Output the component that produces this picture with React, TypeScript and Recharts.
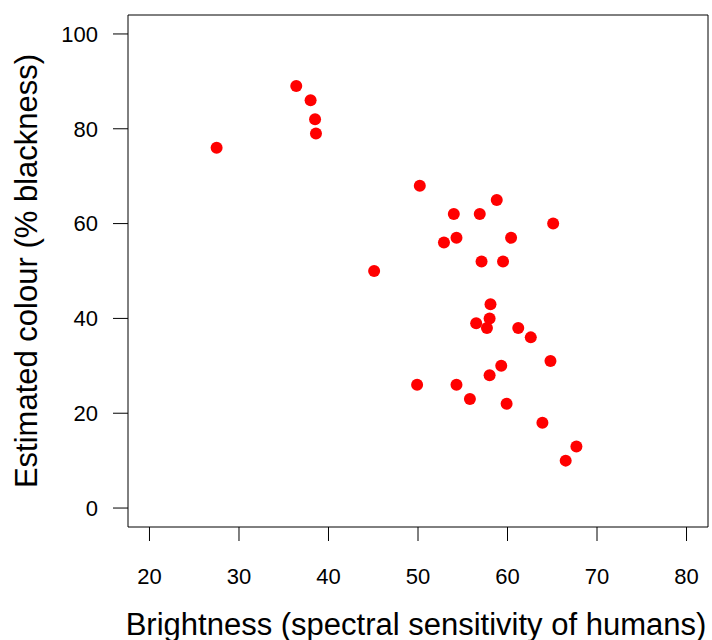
import { ReferenceArea, Scatter, ScatterChart, XAxis, YAxis, Label } from 'recharts'

const brightness = [
  27.5, 36.4, 38.0, 38.5, 38.6, 50.2, 58.8, 54.0, 56.9, 65.1, 54.3, 52.9, 60.4, 57.1, 59.5, 45.1,
  58.1, 58.0, 56.5, 57.7, 61.2, 62.6, 64.8, 59.3, 58.0, 49.9, 54.3, 55.8, 59.9, 63.9, 67.7, 66.5,
]
const blackness = [
  76, 89, 86, 82, 79, 68, 65, 62, 62, 60, 57, 56, 57, 52, 52, 50,
  43, 40, 39, 38, 38, 36, 31, 30, 28, 26, 26, 23, 22, 18, 13, 10,
]
const xTicks = [20, 30, 40, 50, 60, 70, 80]
const yTicks = [0, 20, 40, 60, 80, 100]

const points = brightness.map((x, i) => ({ x, y: blackness[i] }))

const font = '"Liberation Sans", Arial, Helvetica, sans-serif'
const tickStyle = { fill: '#000000', fontSize: 22, fontFamily: font }
const xDomain: [number, number] = [17.6, 82.4]
const yDomain: [number, number] = [-4, 104]

const Dot = (props: any) => <circle cx={props.cx} cy={props.cy} r={6} fill="#ff0000" />

export default function App() {
  return (
    <div style={{ position: 'absolute', left: 0, top: 0, background: '#fff' }}>
      <ScatterChart width={712} height={640} margin={{ top: 15, right: 4, left: 0, bottom: 0 }}>
        <XAxis
          type="number"
          dataKey="x"
          domain={xDomain}
          ticks={xTicks}
          axisLine={false}
          tickLine={{ stroke: '#000000' }}
          tickSize={14}
          tickMargin={27}
          tick={tickStyle}
          height={113}
        >
          <Label
            content={({ viewBox }: any) => (
              <text
                x={viewBox.x + viewBox.width / 2 - 2}
                y={634.5}
                textAnchor="middle"
                fontSize={31}
                fontFamily={font}
                fill="#000000"
              >
                Brightness (spectral sensitivity of humans)
              </text>
            )}
          />
        </XAxis>
        <YAxis
          type="number"
          dataKey="y"
          domain={yDomain}
          ticks={yTicks}
          axisLine={false}
          tickLine={{ stroke: '#000000' }}
          tickSize={15}
          tickMargin={15}
          tick={tickStyle}
          width={128}
        >
          <Label
            content={({ viewBox }: any) => {
              const cy = viewBox.y + viewBox.height / 2
              return (
                <text
                  x={36.7}
                  y={cy}
                  transform={`rotate(-90, 36.7, ${cy})`}
                  textAnchor="middle"
                  fontSize={31}
                  fontFamily={font}
                  fill="#000000"
                >
                  Estimated colour (% blackness)
                </text>
              )
            }}
          />
        </YAxis>
        <ReferenceArea
          x1={xDomain[0]}
          x2={xDomain[1]}
          y1={yDomain[0]}
          y2={yDomain[1]}
          fill="none"
          stroke="#000000"
          strokeWidth={1}
          ifOverflow="visible"
        />
        <Scatter data={points} shape={Dot} isAnimationActive={false} />
      </ScatterChart>
    </div>
  )
}
